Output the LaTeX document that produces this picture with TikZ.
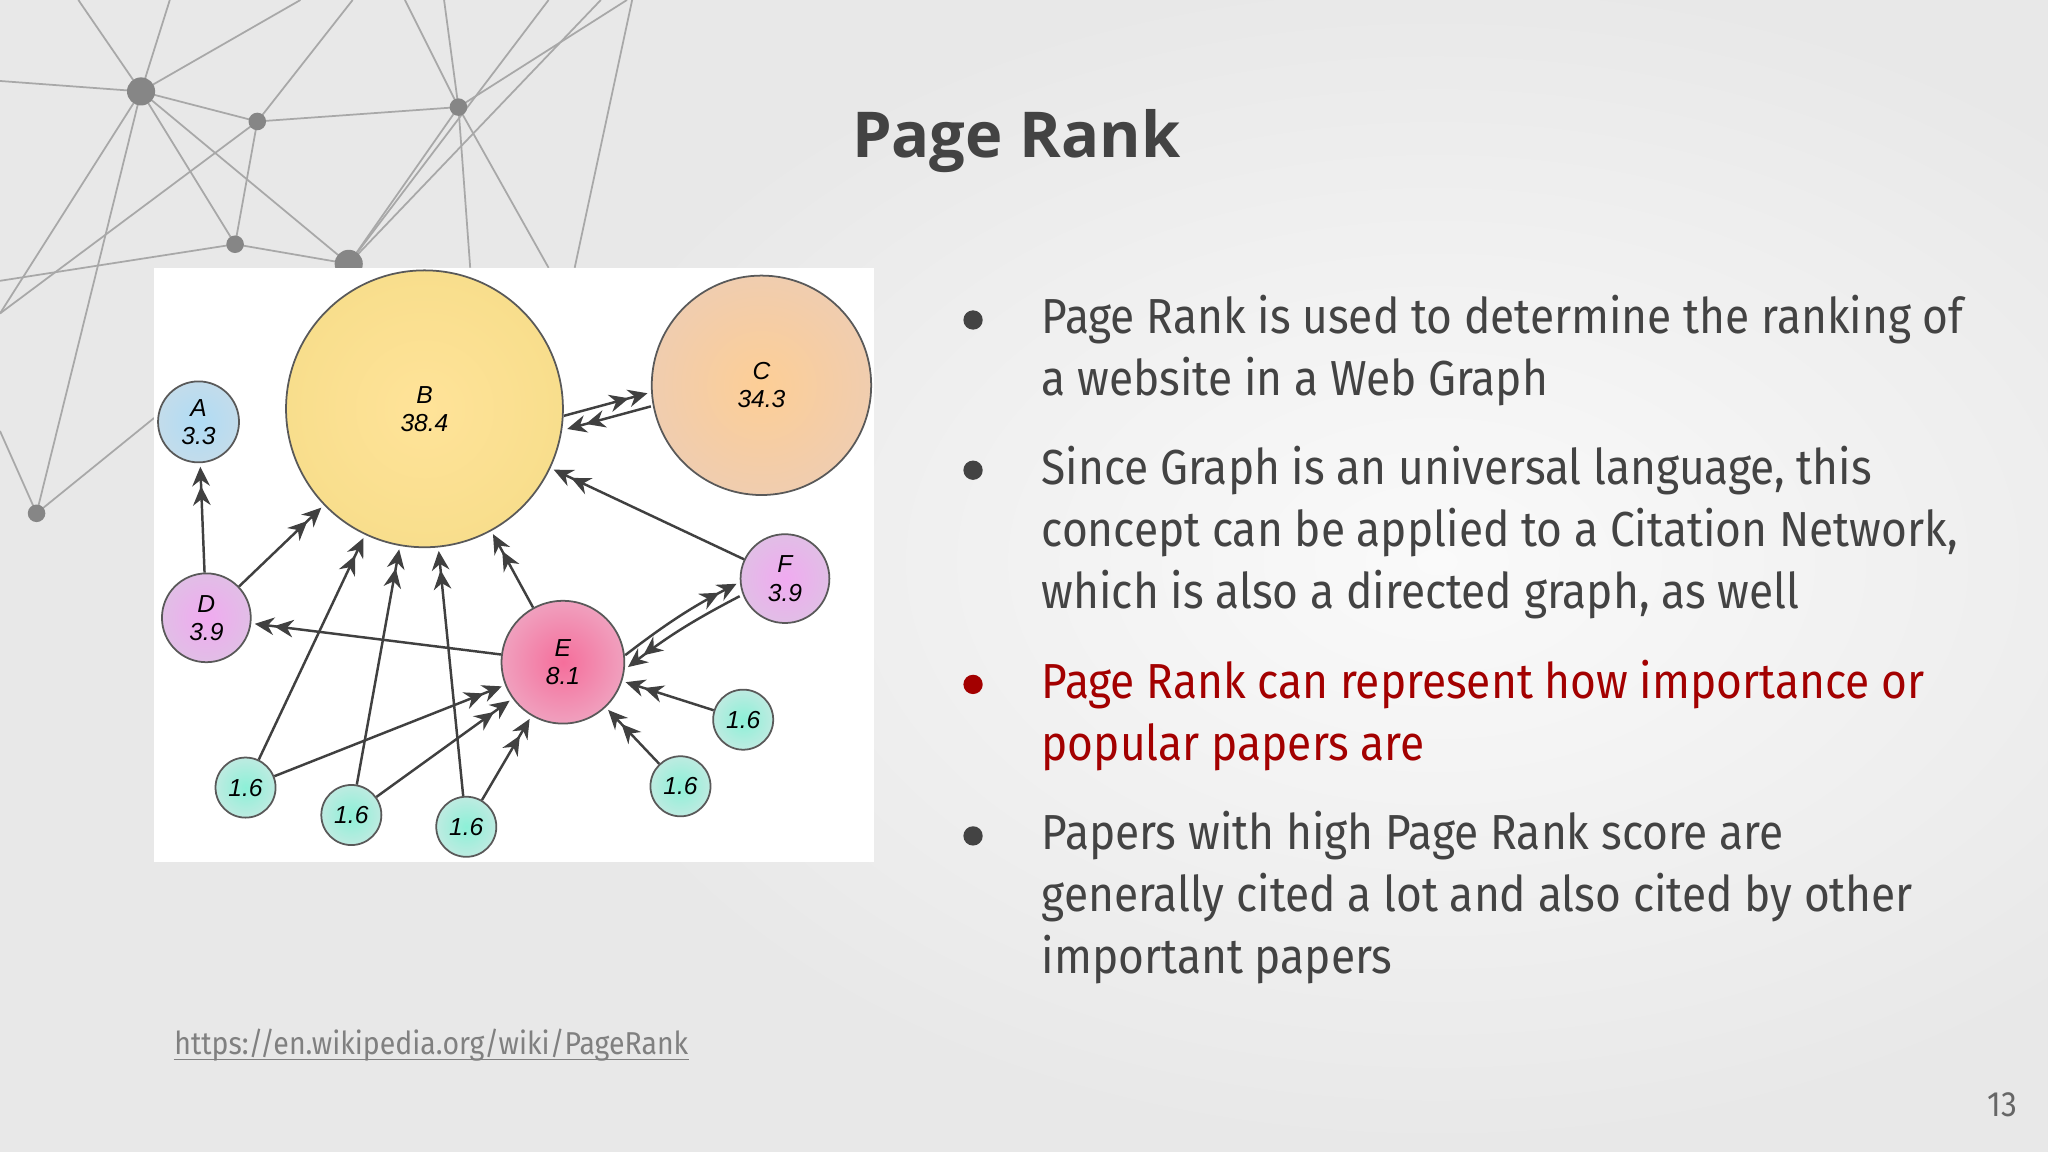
\documentclass[tikz,border=0pt]{standalone}
\usepackage{fontspec}
\usetikzlibrary{arrows.meta}
\newfontfamily\bodyfont[FakeStretch=0.9]{Fira Sans}
\newfontfamily\titlefont{Open Sans}
\newfontfamily\lblfont{Liberation Sans}
\definecolor{bg}{HTML}{E8E8E8}
\definecolor{txt}{HTML}{434343}
\definecolor{red1}{HTML}{A30000}
\definecolor{netc}{HTML}{A8A8A8}
\tikzset{
 gn/.style={circle,draw=gray!70!black,line width=0.5pt,minimum size=#1,inner sep=0pt,align=center,font=\lblfont\itshape\fontsize{7}{8}\selectfont},
 ar/.style={-{Stealth[length=5.5pt,width=5pt]Stealth[length=5.5pt,width=5pt]},line width=0.7pt,draw=black!75,shorten >=1pt},
 bl/.style={anchor=west,font=\bodyfont\fontsize{14}{17}\selectfont,text=txt,inner sep=0pt},
 dot/.style={circle,fill=#1,inner sep=0pt,minimum size=5pt}
}
\begin{document}
\begin{tikzpicture}[x=0.01306cm,y=-0.01306cm]
\useasboundingbox (0,0) rectangle (1568,882);
\fill[bg] (0,0) rectangle (1568,882);
\shade[inner color=white!96!gray,outer color=bg] (1100,430) ellipse (700 and 450);
% network decoration
\begin{scope}[netc,line width=0.5pt]
\coordinate (p1) at (108,70); \coordinate (p2) at (197,93); \coordinate (p3) at (351,82);
\coordinate (p4) at (180,187); \coordinate (p5) at (267,202); \coordinate (p6) at (28,393);
\draw (0,62) -- (p1) -- (p2) -- (p3) -- (480,0);
\draw (p1) -- (p4) -- (p5) -- (p3);
\draw (p1) -- (p6); \draw (p1) -- (0,240); \draw (p1) -- (130,0); \draw (p1) -- (60,0);
\draw (p1) -- (p5); \draw (p1) -- (230,0); \draw (p2) -- (270,0);
\draw (p3) -- (340,0); \draw (p3) -- (420,205); \draw (p3) -- (310,0);
\draw (p5) -- (460,0); \draw (p4) -- (0,215); \draw (p2) -- (p4);
\draw (440,205) -- (484,0); \draw (p6) -- (0,330); \draw (p6) -- (118,320);
\draw (p5) -- (420,0); \draw (0,240) -- (p2); \draw (360,205) -- (p3);
\node[dot=netc!80!black,minimum size=8pt] at (p1) {};
\foreach \p in {p2,p3,p4,p6} \node[dot=netc!80!black] at (\p) {};
\node[dot=netc!80!black,minimum size=8pt] at (p5) {};
\end{scope}
% title
\node[font=\titlefont\bfseries\fontsize{18}{22}\selectfont,text=txt] (title) at (778,108) {Page Rank};
% graph image
\fill[white] (118,205) rectangle (669,660);
\node[gn=212*0.01306cm,inner color=yellow!45!orange!40,outer color={rgb,255:red,248;green,222;blue,140}] (B) at (325,313) {B\\38.4};
\node[gn=168*0.01306cm,inner color={rgb,255:red,253;green,206;blue,150},outer color={rgb,255:red,240;green,205;blue,175}] (C) at (583,295) {C\\34.3};
\node[gn=62*0.01306cm,inner color={rgb,255:red,175;green,220;blue,245},outer color={rgb,255:red,195;green,220;blue,235}] (A) at (152,323) {A\\3.3};
\node[gn=68*0.01306cm,inner color={rgb,255:red,240;green,170;blue,240},outer color={rgb,255:red,225;green,190;blue,230}] (D) at (158,473) {D\\3.9};
\node[gn=68*0.01306cm,inner color={rgb,255:red,240;green,170;blue,240},outer color={rgb,255:red,225;green,190;blue,230}] (F) at (601,443) {F\\3.9};
\node[gn=94*0.01306cm,inner color={rgb,255:red,245;green,110;blue,155},outer color={rgb,255:red,240;green,160;blue,190}] (E) at (431,507) {E\\8.1};
\foreach \n/\x/\y in {s1/188/603,s2/269/624,s3/357/633,s4/521/602,s5/569/551}
  \node[gn=46*0.01306cm,inner color={rgb,255:red,140;green,240;blue,215},outer color={rgb,255:red,190;green,235;blue,225}] (\n) at (\x,\y) {1.6};
\draw[ar] (D) -- (A);
\draw[ar] (D) -- (B);
\draw[ar] (s1) -- (B);
\draw[ar] (s2) -- (B);
\draw[ar] (s3) -- (B);
\draw[ar] (E) -- (B);
\draw[ar] (F) -- (B);
\draw[ar] ([yshift=-2pt]B.east) -- ([yshift=-2pt]C.west);
\draw[ar] ([yshift=-6pt]C.west) -- ([yshift=-6pt]B.east);
\draw[ar] (E) -- (D);
\draw[ar] ([yshift=2pt]E.east) to[bend left=5] ([yshift=-1pt]F.west);
\draw[ar] ([yshift=-5pt]F.west) to[bend right=5] ([yshift=-2pt]E.east);
\foreach \n in {s1,s3,s4,s5} \draw[ar] (\n) -- (E);
\draw[ar] (s2) -- (E);
% bullets
\foreach \y/\c in {245/txt,360/txt,524/red1,640/txt}
  \node[circle,fill=\c,inner sep=0pt,minimum size=5.5pt] (b\y) at (745,\y) {};
\node[bl] (l1) at (797,245) {Page Rank is used to determine the ranking of};
\node[bl] (l2) at (797,292) {a website in a Web Graph};
\node[bl] (l3) at (797,360) {Since Graph is an universal language, this};
\node[bl] (l4) at (797,408) {concept can be applied to a Citation Network,};
\node[bl] (l5) at (797,455) {which is also a directed graph, as well};
\node[bl,text=red1] (l6) at (797,524) {Page Rank can represent how importance or};
\node[bl,text=red1] (l7) at (797,572) {popular papers are};
\node[bl] (l8) at (797,640) {Papers with high Page Rank score are};
\node[bl] (l9) at (797,687) {generally cited a lot and also cited by other};
\node[bl] (l10) at (797,735) {important papers};
% link and page number
\node[anchor=west,inner sep=0pt,font=\bodyfont\fontsize{9}{11}\selectfont,text=gray] (link) at (133,800) {https://en.wikipedia.org/wiki/PageRank};
\draw[gray,line width=0.4pt] (133,811) -- (link.east |- 0,811);
\node[font=\bodyfont\fontsize{10}{12}\selectfont,text=gray!80!black] (pg) at (1533,846) {13};
\end{tikzpicture}
\end{document}
